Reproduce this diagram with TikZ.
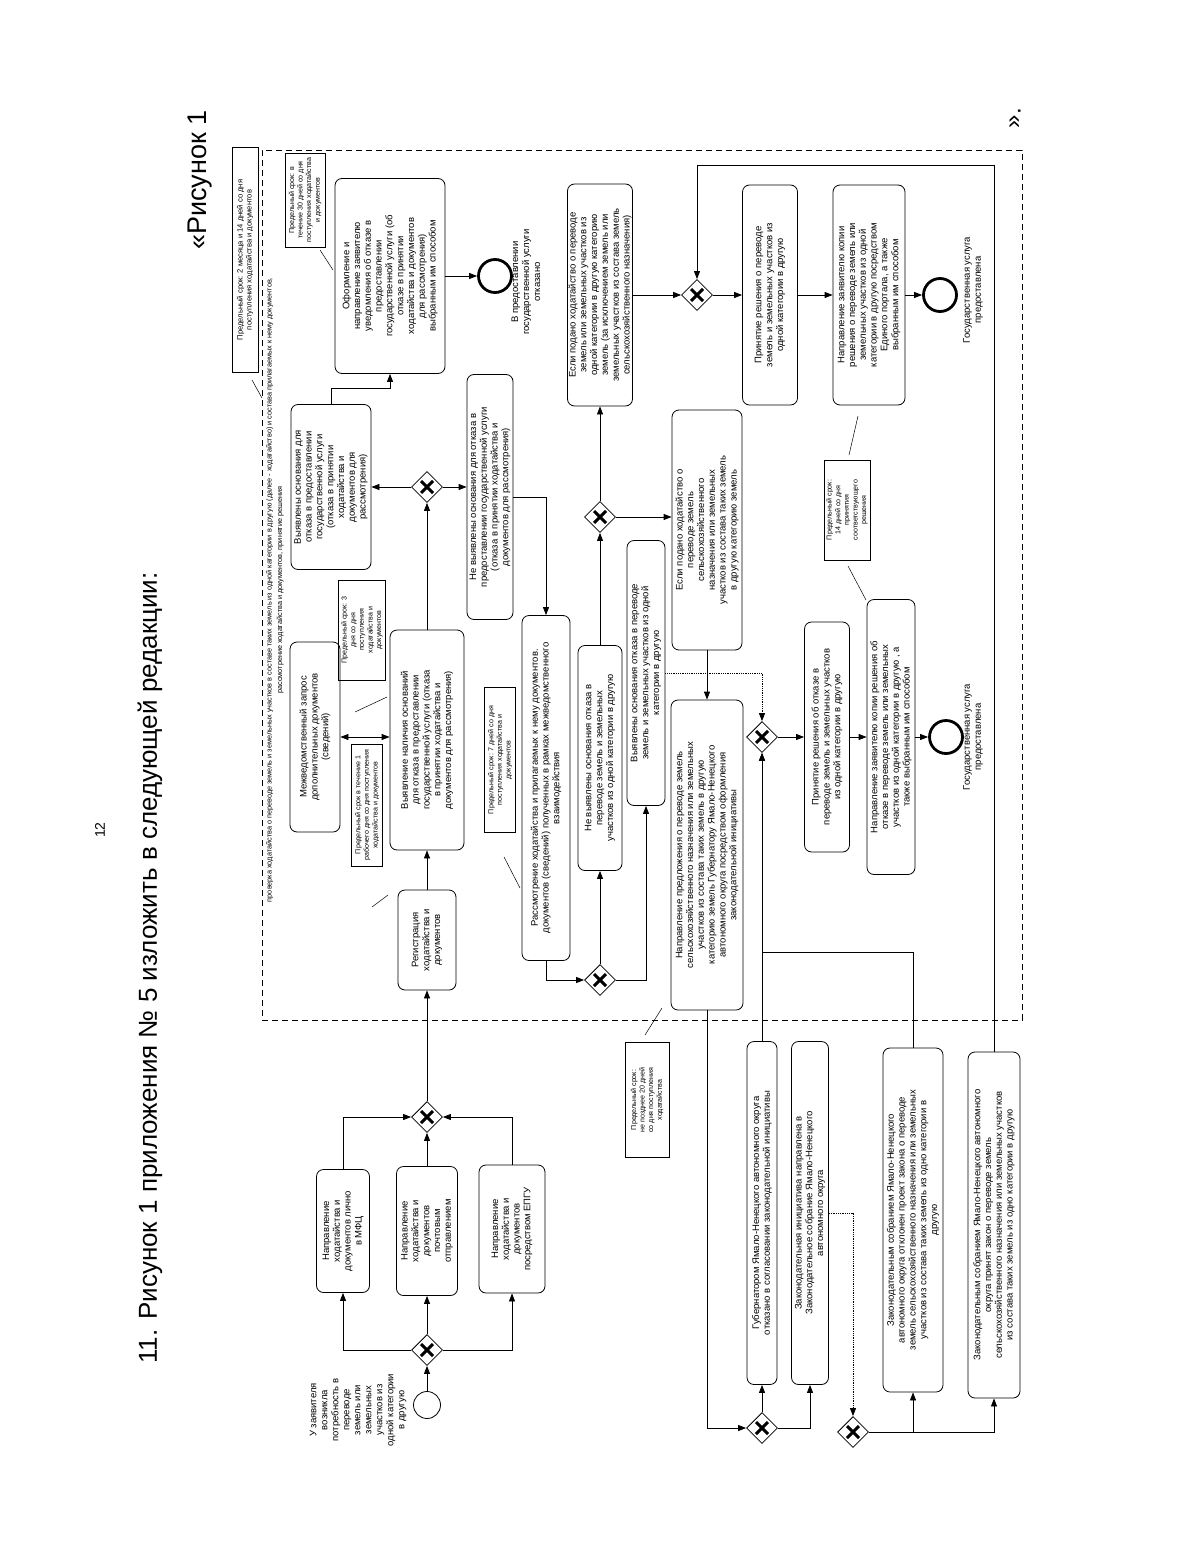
\documentclass[tikz,border=0pt]{standalone}
\usepackage{fontspec}
\setmainfont{Liberation Sans}
\usetikzlibrary{arrows.meta, shapes.geometric}

\begin{document}
\begin{tikzpicture}[
    x=1pt, y=-1pt,
    >={Triangle[length=8pt, width=6pt]},
    task/.style={draw, rounded corners=7pt, rotate=90, align=center, inner sep=1pt,
                 line width=0.8pt, font=\fontsize{9.5}{10.8}\selectfont},
    notebox/.style={draw, rotate=90, align=center, inner sep=1pt, line width=0.5pt,
                 font=\fontsize{7.1}{8.6}\selectfont},
    evlabel/.style={rotate=90, align=center, font=\fontsize{9.5}{11}\selectfont},
    wh/.style 2 args={minimum height=#1pt, minimum width=#2pt},
    gate/.style={draw, diamond, minimum size=31pt, inner sep=0pt, line width=0.8pt,
                 path picture={\draw[line width=3pt]
                   ([shift={(-6pt,-6pt)}]path picture bounding box.center) -- ++(12pt,12pt)
                   ([shift={(-6pt,6pt)}]path picture bounding box.center) -- ++(12pt,-12pt);}},
    startev/.style={draw, circle, minimum size=27pt, inner sep=0pt, line width=0.8pt},
    endev/.style={draw, circle, minimum size=33pt, inner sep=0pt, line width=2.8pt},
    arrow/.style={->, line width=0.8pt},
    link/.style={line width=0.5pt}
]
  \fill[white] (0,0) rectangle (1200,1557);
  \useasboundingbox (0,0) rectangle (1200,1557);

  % page heading
  \node[rotate=90, font=\fontsize{26}{30}\selectfont] (heading) at (150,968) {11. Рисунок 1 приложения № 5 изложить в следующей редакции:};
  \node[rotate=90, font=\fontsize{14}{16}\selectfont] (pagenum) at (100,830) {12};
  \node[rotate=90, font=\fontsize{27}{30}\selectfont] (figopen) at (200,180) {«Рисунок 1};
  \node[rotate=90, font=\fontsize{24}{28}\selectfont] (figclose) at (1015,118) {».};

  % dashed frame: checking stage
  \node[draw, dash pattern=on 6pt off 4pt, line width=0.7pt, minimum width=760pt,
        minimum height=870pt, inner sep=0pt] (stage) at (642,585) {};
  \node[rotate=90, align=center, font=\fontsize{7.3}{10.5}\selectfont] (stagelbl) at (275,590)
    {проверка ходатайства о переводе земель и земельных участков в составе таких земель из одной категории в другую (далее - ходатайство) и состава прилагаемых к нему документов,\\
     рассмотрение ходатайства и документов, принятие решения};
  \node[notebox, wh={26}{225}, font=\fontsize{7.6}{9}\selectfont] (term2m) at (245,260)
    {Предельный срок: 2 месяца и 14 дней со дня\\ поступления ходатайства и документов};

  % submission of the application
  \node[startev] (start) at (427,1405) {};
  \node[evlabel] (startlbl) at (358,1410) {У заявителя\\ возникла\\ потребность в\\ переводе\\ земель или\\ земельных\\ участков из\\ одной категории\\ в другую};
  \node[gate] (g0) at (427,1350) {};
  \node[task, wh={53}{123}] (mfc) at (343,1231) {Направление\\ ходатайства и\\ документов лично\\ в МФЦ};
  \node[task, wh={61}{129}] (post) at (427,1231) {Направление\\ ходатайства и\\ документов\\ почтовым\\ отправлением};
  \node[task, wh={66}{128}] (epgu) at (512,1229) {Направление\\ ходатайства и\\ документов\\ посредством ЕПГУ};
  \node[gate] (g1) at (427,1117) {};

  % registration and check
  \node[task, wh={58}{100}] (reg) at (427,940) {Регистрация\\ ходатайства и\\ документов};
  \node[notebox, wh={31}{122}] (term1d) at (367,805) {Предельный срок в течение 1\\ рабочего дня со дня поступления\\ ходатайства и документов};
  \node[task, wh={74}{220}] (check) at (427,740) {Выявление наличия оснований\\ для отказа в предоставлении\\ государственной услуги (отказа\\ в принятии ходатайства и\\ документов для рассмотрения)};
  \node[task, wh={50}{190}] (request) at (315,737) {Межведомственный запрос\\ дополнительных документов\\ (сведений)};
  \node[notebox, wh={47}{100}] (term3d) at (362,630) {Предельный срок: 3\\ дня со дня\\ поступления\\ ходатайства и\\ документов};
  \node[gate] (g2) at (427,487) {};
  \node[task, wh={80}{165}] (found) at (331,487) {Выявлены основания для\\ отказа в предоставлении\\ государственной услуги\\ (отказа в принятии\\ ходатайства и\\ документов для\\ рассмотрения)};
  \node[task, wh={110}{195}] (notify) at (390,276) {Оформление и\\ направление заявителю\\ уведомления об отказе в\\ предоставлении\\ государственной услуги (об\\ отказе в принятии\\ ходатайства и документов\\ для рассмотрения)\\ выбранным им способом};
  \node[notebox, wh={40}{94}] (term30d) at (305,200) {Предельный срок: в\\ течение 30 дней со дня\\ поступления ходатайства\\ и документов};
  \node[endev] (endrefused) at (495,276) {};
  \node[evlabel] (endrefusedlbl) at (526,282) {В предоставлении\\ государственной услуги\\ отказано};
  \node[task, wh={46}{245}] (notfound) at (490,497) {Не выявлены основания для отказа в\\ предоставлении государственной услуги\\ (отказа в принятии ходатайства и\\ документов для рассмотрения)};

  % consideration
  \node[task, wh={48}{345}] (review) at (546,788) {Рассмотрение ходатайства и прилагаемых к нему документов.\\ документов (сведений) полученных в рамках межведомственного\\ взаимодействия};
  \node[notebox, wh={31}{145}] (term7d) at (500,760) {Предельный срок: 7 дней со дня\\ поступления ходатайства и\\ документов};
  \node[gate] (g3) at (600,980) {};
  \node[task, wh={44}{225}] (noreason) at (600,758) {Не выявлены основания отказа в\\ переводе земель и земельных\\ участков из одной категории в другую};
  \node[task, wh={38}{265}] (reason) at (646,673) {Выявлены основания отказа в переводе\\ земель и земельных участков из одной\\ категории в другую};
  \node[gate] (g4) at (600,517) {};
  \node[task, wh={64}{222}] (othercat) at (600,295) {Если подано ходатайство о переводе\\ земель или земельных участков из\\ одной категории в другую категорию\\ земель (за исключением земель или\\ земельных участков из состава земель\\ сельскохозяйственного назначения)};
  \node[task, wh={70}{240}] (farmcat) at (707,530) {Если подано ходатайство о\\ переводе земель\\ сельскохозяйственного\\ назначения или земельных\\ участков из состава таких земель\\ в другую категорию земель};
  \node[task, wh={72}{310}] (proposal) at (707,855) {Направление предложения о переводе земель\\ сельскохозяйственного назначения или земельных\\ участков из состава таких земель в другую\\ категорию земель Губернатору Ямало-Ненецкого\\ автономного округа посредством оформления\\ законодательной инициативы};

  % decision: transfer accepted
  \node[gate] (g6) at (697,295) {};
  \node[task, wh={55}{220}] (accept) at (770,295) {Принятие решения о переводе\\ земель и земельных участков из\\ одной категории в другую};
  \node[task, wh={72}{220}] (sendaccept) at (869,295) {Направление заявителю копии\\ решения о переводе земель или\\ земельных участков из одной\\ категории в другую посредством\\ Единого портала, а также\\ выбранным им способом};
  \node[endev] (enddone) at (940,295) {};
  \node[evlabel] (enddonelbl) at (973,290) {Государственная услуга\\ предоставлена};
  \node[notebox, wh={46}{100}] (term14d) at (847,510) {Предельный срок:\\ 14 дней со дня\\ принятия\\ соответствующего\\ решения};

  % decision: transfer refused
  \node[gate] (g5) at (762,737) {};
  \node[task, wh={45}{230}] (refuse) at (827,737) {Принятие решения об отказе в\\ переводе земель и земельных участков\\ из одной категории в другую};
  \node[task, wh={48}{275}] (sendrefuse) at (891,737) {Направление заявителю копии решения об\\ отказе в переводе земель или земельных\\ участков из одной категории в другую , а\\ также выбранным им способом};
  \node[endev] (enddone2) at (946,737) {};
  \node[evlabel] (enddone2lbl) at (973,737) {Государственная услуга\\ предоставлена};

  % legislative branch (outside the frame)
  \node[notebox, wh={44}{115}] (term20d) at (647,1100) {Предельный срок:\\ не позднее 20 дней\\ со дня поступления\\ ходатайства};
  \node[task, wh={30}{343}] (govno) at (762,1213) {Губернатором Ямало-Ненецкого автономного округа\\ отказано в согласовании законодательной инициативы};
  \node[task, wh={37}{343}] (initiative) at (810,1213) {Законодательная инициатива направлена в\\ Законодательное собрание Ямало-Ненецкого\\ автономного округа};
  \node[task, wh={60}{344}] (lawno) at (913,1220) {Законодательным собранием Ямало-Ненецкого\\ автономного округа отклонен проект закона о переводе\\ земель сельскохозяйственного назначения или земельных\\ участков из состава таких земель из одно категории в\\ другую};
  \node[task, wh={52}{346}] (lawyes) at (994,1225) {Законодательным собранием Ямало-Ненецкого автономного\\ округа принят закон о переводе земель\\ сельскохозяйственного назначения или земельных участков\\ из состава таких земель из одно категории в другую};
  \node[gate] (g7) at (762,1428) {};
  \node[gate] (g8) at (853,1432) {};
  \coordinate (ytop) at (0,165);

  % flow
  \draw[arrow] (start.north) -- (g0.south);
  \draw[arrow] (g0.west) -| (mfc.west);
  \draw[arrow] (g0.north) -- (post.west);
  \draw[arrow] (g0.east) -| (epgu.west);
  \draw[arrow] (mfc.east) |- (g1.west);
  \draw[arrow] (post.east) -- (g1.south);
  \draw[arrow] (epgu.east) |- (g1.east);
  \draw[arrow] (g1.north) -- (reg.west);
  \draw[arrow] (reg.east) -- (check.west);
  \draw[<->, line width=0.8pt] (request.south) -- (request.south -| check.north);
  \draw[arrow] (check.east) -- (g2.south);
  \draw[arrow] (g2.west) -- (g2.west -| found.south);
  \draw[arrow] (found.east) -- ++(0,-16) -| (notify.west);
  \draw[arrow] (notify.south) -- (endrefused.west);
  \draw[arrow] (g2.east) -- (g2.east -| notfound.north);
  \draw[arrow] (notfound.south) -| (review.east);
  \draw[arrow] (review.west) |- (g3.west);
  \draw[arrow] (g3.north) -- (noreason.west);
  \draw[arrow] (g3.east) -| (reason.west);
  \draw[arrow] (noreason.east) -- (g4.south);
  \draw[arrow] (g4.north) -- (othercat.west);
  \draw[arrow] (g4.east) -- (g4.east -| farmcat.north);
  \draw[arrow] (farmcat.west) -- (proposal.east);
  \draw[arrow] (othercat.south) -- (g6.west);
  \draw[arrow] (g6.east) -- (accept.north);
  \draw[arrow] (accept.south) -- (sendaccept.north);
  \draw[arrow] (sendaccept.south) -- (enddone.west);
  \draw[arrow, densely dotted] (reason.south) -| (g5.north);
  \draw[arrow] (g5.east) -- (g5.east -| refuse.north);
  \draw[arrow] (refuse.south) -- (refuse.south -| sendrefuse.north);
  \draw[arrow] (sendrefuse.south) -- (enddone2.west);
  \draw[arrow] (proposal.west) |- (g7.west);
  \draw[arrow] (g7.north) -- (govno.west);
  \draw[arrow] (g7.east) -| (initiative.west);
  \draw[arrow, densely dotted] (initiative.south) -| (g8.north);
  \draw[arrow] (g8.east) -| (lawno.west);
  \draw[arrow] (g8.east) -| (lawyes.west);
  \draw[arrow] (govno.east) -- (g5.south);
  \draw[arrow] (lawno.east) -- ++(0,-95) -| (g5.south);
  \draw[arrow] (lawyes.east) -- (lawyes.east |- ytop) -| (g6.north);

  % annotation ticks
  \draw[link] (252,380) -- (262,398);
  \draw[link] (320,250) -- (333,270);
  \draw[link] (355,712) -- (387,697);
  \draw[link] (372,907) -- (388,895);
  \draw[link] (504,857) -- (520,888);
  \draw[link] (849,455) -- (858,416);
  \draw[link] (848,566) -- (866,600);
  \draw[link] (645,1035) -- (662,1008);
\end{tikzpicture}
\end{document}
